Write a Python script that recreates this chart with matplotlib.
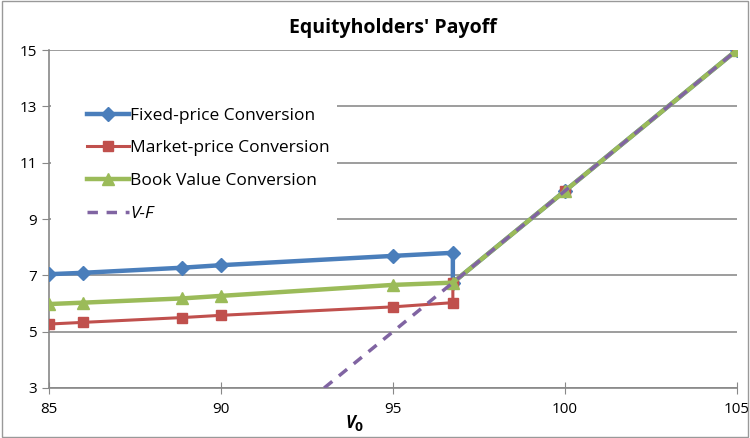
import matplotlib.pyplot as plt

# values
v0 = [85, 86, 88.87, 90, 95, 96.74, 96.74, 100, 105]
fixed_price = [7.04, 7.09, 7.27, 7.36, 7.69, 7.80, 6.74, 10, 15]
market_price = [5.27, 5.33, 5.50, 5.58, 5.88, 6.03, 6.74, 10, 15]
book_v0 = [85, 86, 88.87, 90, 95, 96.74, 100, 105]
book_value = [5.98, 6.03, 6.18, 6.27, 6.66, 6.74, 10, 15]
vf_x = [93, 105]
vf_y = [3, 15]

xticks = [85, 90, 95, 100, 105]
yticks = [3, 5, 7, 9, 11, 13, 15]

plt.rcParams['font.family'] = ['Open Sans', 'DejaVu Sans']

fig = plt.figure(figsize=(7.5, 4.38), dpi=100)
ax = fig.add_axes([0.0653, 0.1142, 0.9174, 0.7716])

ax.plot(v0, fixed_price, color='#4A7EBB', lw=3.2, marker='D', ms=7,
        label='Fixed-price Conversion', zorder=3)
ax.plot(v0, market_price, color='#C0504D', lw=2.2, marker='s', ms=7,
        label='Market-price Conversion', zorder=4)
ax.plot(book_v0, book_value, color='#9BBB59', lw=3.2, marker='^', ms=9,
        label='Book Value Conversion', zorder=5)
ax.plot(vf_x, vf_y, color='#8064A2', lw=2.5, ls=(0, (3, 2.5)),
        label='V-F', zorder=6)

ax.set_xlim(85, 105)
ax.set_ylim(3, 15)
ax.set_xticks(xticks)
ax.set_yticks(yticks)
ax.tick_params(labelsize=11, color='#888888', length=5)
ax.tick_params(axis='x', direction='inout', length=8, pad=6)
ax.grid(axis='y', color='#8c8c8c', lw=1.2)
ax.set_axisbelow(True)
for s in ['top', 'right']:
    ax.spines[s].set_visible(False)
for s in ['left', 'bottom']:
    ax.spines[s].set_color('#888888')
    ax.spines[s].set_linewidth(1.2)

ax.set_title("Equityholders' Payoff", fontsize=14, fontweight='bold', pad=12)
ax.set_xlabel('V$_\\mathbf{0}$', fontsize=12, fontweight='bold', fontstyle='italic')
ax.xaxis.set_label_coords(0.445, -0.075)

# white area behind the legend (the legend box covers the gridlines)
ax.add_patch(plt.Rectangle((0.003, 0.48), 0.416, 0.385, transform=ax.transAxes,
                           facecolor='white', edgecolor='none', zorder=1))

leg = ax.legend(loc='upper left', bbox_to_anchor=(0.045, 0.85), frameon=False,
                fontsize=12.5, handlelength=2.4, handletextpad=0.1,
                labelspacing=0.95, borderaxespad=0)
for t in leg.get_texts():
    if t.get_text() == 'V-F':
        t.set_fontstyle('italic')

fig.patches.append(plt.Rectangle((0.003, 0.003), 0.994, 0.994, transform=fig.transFigure,
                                 fill=False, edgecolor='#999999', lw=1))

fig.savefig('out.png', dpi=100)
